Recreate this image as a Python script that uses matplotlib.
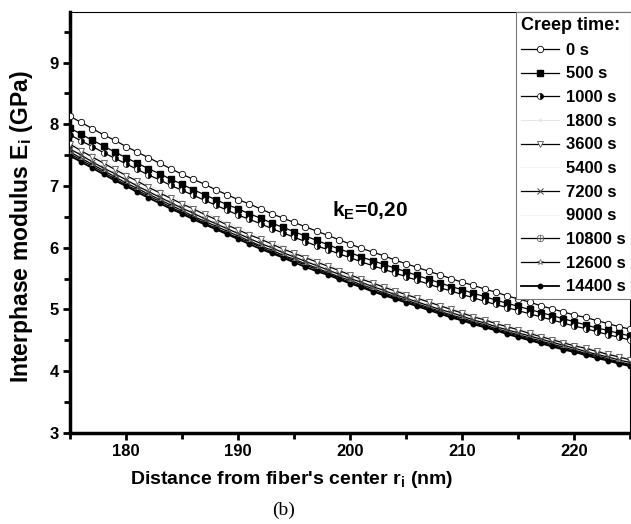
import matplotlib
matplotlib.use("Agg")
import matplotlib.pyplot as plt
from matplotlib.ticker import MultipleLocator

plt.rcParams['font.family'] = ['Liberation Sans', 'DejaVu Sans']
plt.rcParams['font.weight'] = 'bold'
plt.rcParams['mathtext.fontset'] = 'custom'
plt.rcParams['mathtext.bf'] = 'Liberation Sans:bold'
plt.rcParams['mathtext.rm'] = 'Liberation Sans:bold'
plt.rcParams['mathtext.default'] = 'bf'

# distance from fiber centre (nm), one point per nm
r = list(range(175, 226))

# interphase modulus (GPa) for each creep time
E_0 = [8.13, 8.03, 7.93, 7.83, 7.74, 7.64, 7.55, 7.46, 7.37, 7.28,
       7.19, 7.11, 7.03, 6.94, 6.86, 6.78, 6.71, 6.63, 6.55, 6.48,
       6.41, 6.34, 6.27, 6.20, 6.13, 6.06, 5.99, 5.93, 5.87, 5.80,
       5.74, 5.68, 5.62, 5.56, 5.50, 5.44, 5.39, 5.33, 5.28, 5.22,
       5.17, 5.12, 5.06, 5.01, 4.96, 4.91, 4.87, 4.82, 4.77, 4.72, 4.68]
E_500 = [7.94, 7.84, 7.74, 7.65, 7.55, 7.46, 7.37, 7.28, 7.20, 7.11,
         7.03, 6.94, 6.86, 6.78, 6.70, 6.63, 6.55, 6.48, 6.40, 6.33,
         6.26, 6.19, 6.12, 6.05, 5.98, 5.92, 5.85, 5.79, 5.73, 5.67,
         5.61, 5.55, 5.49, 5.43, 5.37, 5.32, 5.26, 5.21, 5.15, 5.10,
         5.05, 5.00, 4.95, 4.90, 4.85, 4.80, 4.75, 4.70, 4.66, 4.61, 4.57]
E_1000 = [7.83, 7.73, 7.64, 7.54, 7.45, 7.36, 7.27, 7.18, 7.10, 7.01,
          6.93, 6.85, 6.77, 6.69, 6.61, 6.53, 6.46, 6.39, 6.31, 6.24,
          6.17, 6.10, 6.03, 5.97, 5.90, 5.84, 5.77, 5.71, 5.65, 5.59,
          5.53, 5.47, 5.41, 5.35, 5.30, 5.24, 5.19, 5.13, 5.08, 5.03,
          4.98, 4.93, 4.88, 4.83, 4.78, 4.73, 4.69, 4.64, 4.59, 4.55, 4.50]
E_1800 = [7.72, 7.61, 7.51, 7.41, 7.31, 7.21, 7.12, 7.02, 6.93, 6.84,
          6.75, 6.66, 6.58, 6.49, 6.41, 6.33, 6.25, 6.17, 6.09, 6.02,
          5.94, 5.87, 5.80, 5.73, 5.66, 5.59, 5.52, 5.46, 5.39, 5.33,
          5.26, 5.20, 5.14, 5.08, 5.02, 4.97, 4.91, 4.85, 4.80, 4.74,
          4.69, 4.64, 4.59, 4.54, 4.49, 4.44, 4.39, 4.34, 4.29, 4.25, 4.20]
E_3600 = [7.68, 7.57, 7.47, 7.37, 7.27, 7.17, 7.08, 6.98, 6.89, 6.80,
          6.71, 6.63, 6.54, 6.46, 6.37, 6.29, 6.21, 6.14, 6.06, 5.98,
          5.91, 5.84, 5.77, 5.70, 5.63, 5.56, 5.49, 5.43, 5.36, 5.30,
          5.24, 5.18, 5.12, 5.06, 5.00, 4.94, 4.88, 4.83, 4.77, 4.72,
          4.67, 4.61, 4.56, 4.51, 4.46, 4.41, 4.37, 4.32, 4.27, 4.23, 4.18]
E_5400 = [7.63, 7.53, 7.42, 7.32, 7.22, 7.13, 7.03, 6.94, 6.85, 6.76,
          6.67, 6.58, 6.50, 6.42, 6.33, 6.25, 6.17, 6.10, 6.02, 5.95,
          5.87, 5.80, 5.73, 5.66, 5.59, 5.52, 5.46, 5.39, 5.33, 5.26,
          5.20, 5.14, 5.08, 5.02, 4.97, 4.91, 4.85, 4.80, 4.74, 4.69,
          4.64, 4.58, 4.53, 4.48, 4.43, 4.39, 4.34, 4.29, 4.24, 4.20, 4.15]
E_7200 = [7.60, 7.50, 7.39, 7.29, 7.20, 7.10, 7.00, 6.91, 6.82, 6.73,
          6.64, 6.56, 6.47, 6.39, 6.31, 6.23, 6.15, 6.07, 6.00, 5.92,
          5.85, 5.78, 5.71, 5.64, 5.57, 5.50, 5.44, 5.37, 5.31, 5.24,
          5.18, 5.12, 5.06, 5.00, 4.95, 4.89, 4.83, 4.78, 4.72, 4.67,
          4.62, 4.57, 4.52, 4.47, 4.42, 4.37, 4.32, 4.27, 4.23, 4.18, 4.14]
E_9000 = [7.57, 7.47, 7.36, 7.26, 7.17, 7.07, 6.98, 6.88, 6.79, 6.70,
          6.62, 6.53, 6.45, 6.36, 6.28, 6.20, 6.13, 6.05, 5.97, 5.90,
          5.83, 5.75, 5.68, 5.61, 5.55, 5.48, 5.41, 5.35, 5.29, 5.22,
          5.16, 5.10, 5.04, 4.98, 4.93, 4.87, 4.81, 4.76, 4.71, 4.65,
          4.60, 4.55, 4.50, 4.45, 4.40, 4.35, 4.30, 4.26, 4.21, 4.17, 4.12]
E_10800 = [7.55, 7.45, 7.35, 7.25, 7.15, 7.05, 6.96, 6.87, 6.78, 6.69,
           6.60, 6.51, 6.43, 6.35, 6.27, 6.19, 6.11, 6.03, 5.96, 5.88,
           5.81, 5.74, 5.67, 5.60, 5.53, 5.47, 5.40, 5.34, 5.27, 5.21,
           5.15, 5.09, 5.03, 4.97, 4.91, 4.86, 4.80, 4.75, 4.69, 4.64,
           4.59, 4.54, 4.49, 4.44, 4.39, 4.34, 4.29, 4.25, 4.20, 4.15, 4.11]
E_12600 = [7.52, 7.42, 7.32, 7.22, 7.12, 7.02, 6.93, 6.84, 6.75, 6.66,
           6.57, 6.49, 6.40, 6.32, 6.24, 6.16, 6.09, 6.01, 5.93, 5.86,
           5.79, 5.72, 5.65, 5.58, 5.51, 5.44, 5.38, 5.31, 5.25, 5.19,
           5.13, 5.07, 5.01, 4.95, 4.89, 4.84, 4.78, 4.73, 4.67, 4.62,
           4.57, 4.52, 4.47, 4.42, 4.37, 4.32, 4.28, 4.23, 4.18, 4.14, 4.09]
E_14400 = [7.49, 7.39, 7.29, 7.19, 7.09, 7.00, 6.90, 6.81, 6.72, 6.63,
           6.55, 6.46, 6.38, 6.30, 6.22, 6.14, 6.06, 5.98, 5.91, 5.84,
           5.76, 5.69, 5.62, 5.56, 5.49, 5.42, 5.36, 5.29, 5.23, 5.17,
           5.11, 5.05, 4.99, 4.93, 4.87, 4.82, 4.76, 4.71, 4.66, 4.60,
           4.55, 4.50, 4.45, 4.40, 4.35, 4.31, 4.26, 4.21, 4.17, 4.12, 4.08]

labels = ['0 s', '500 s', '1000 s', '1800 s', '3600 s', '5400 s', '7200 s',
          '9000 s', '10800 s', '12600 s', '14400 s']

fig = plt.figure(figsize=(6.31, 5.24), dpi=100)
ax = fig.add_axes([0.111, 0.174, 0.888, 0.803])

ax.plot(r, E_0, '-o', color='black', lw=0.9, ms=4.6, mfc='white', mec='black', mew=0.6, label=labels[0], zorder=3)
ax.plot(r, E_500, '-s', color='black', lw=0.9, ms=3.8, mfc='black', mec='black', label=labels[1], zorder=3)
ax.plot(r, E_1000, '-o', color='black', lw=0.9, ms=4.3, fillstyle='right', mfc='black', mfcalt='white',
        mec='black', mew=0.5, label=labels[2], zorder=3)
ax.plot(r, E_1800, '-', marker='.', color='#e6e6e6', lw=0.7, ms=3, label=labels[3], zorder=1)
ax.plot(r, E_3600, '-v', color='black', lw=0.9, ms=4.5, mfc='white', mec='#555555', mew=0.6, label=labels[4], zorder=3)
ax.plot(r, E_5400, '-', color='#f4f4f4', lw=0.7, label=labels[5], zorder=1)
ax.plot(r, E_7200, '-x', color='black', lw=0.9, ms=4, mec='#444444', mew=0.7, label=labels[6], zorder=3)
ax.plot(r, E_9000, '-', color='#f4f4f4', lw=0.7, label=labels[7], zorder=1)
ax.plot(r, E_10800, '-', marker=r'$\oplus$', color='black', lw=0.9, ms=5, mec='#666666', mew=0.2, label=labels[8], zorder=3)
ax.plot(r, E_12600, '-*', color='black', lw=0.9, ms=4.2, mfc='white', mec='#555555', mew=0.5, label=labels[9], zorder=3)
ax.plot(r, E_14400, '-o', color='black', lw=1.3, ms=3.2, mfc='black', mec='black', label=labels[10], zorder=3)

ax.set_xlim(175, 225)
ax.set_ylim(3, 9.82)
ax.xaxis.set_major_locator(MultipleLocator(10))
ax.xaxis.set_minor_locator(MultipleLocator(5))
ax.yaxis.set_major_locator(MultipleLocator(1))
ax.yaxis.set_minor_locator(MultipleLocator(0.5))
ax.set_xticks([180, 190, 200, 210, 220])
ax.tick_params(which='major', direction='out', length=5, width=2, labelsize=12, pad=3)
ax.tick_params(which='minor', direction='out', length=4, width=2)
for lab in ax.get_xticklabels() + ax.get_yticklabels():
    lab.set_fontweight('bold')

ax.spines['left'].set_linewidth(2.5)
ax.spines['bottom'].set_linewidth(2.5)
ax.spines['top'].set_linewidth(0.8)
ax.spines['right'].set_linewidth(0.8)

ax.set_xlabel(r"Distance from fiber's center r$_\mathbf{i}$ (nm)", fontsize=14, fontweight='bold')
ax.xaxis.set_label_coords(0.395, -0.085)
ax.set_ylabel(r"Interphase modulus E$_\mathbf{i}$ (GPa)", fontsize=16.5, fontweight='bold')
ax.yaxis.set_label_coords(-0.062, 0.49)

ax.text(201.8, 6.6, r"k$_\mathbf{E}$=0,20", fontsize=15, fontweight='bold', ha='center', va='center')

leg = ax.legend(loc='upper left', bbox_to_anchor=(0.795, 1.0), borderaxespad=0, title='Creep time:', fontsize=12,
                title_fontproperties={'weight': 'bold', 'size': 13}, alignment='left',
                numpoints=1, handlelength=2.3, handletextpad=0.45, labelspacing=0.52,
                borderpad=0.3, fancybox=False, edgecolor='#777777', framealpha=1)
leg.get_frame().set_linewidth(0.8)
for t in leg.get_texts():
    t.set_fontweight('bold')

fig.text(0.45, 0.018, '(b)', fontsize=14, family='Liberation Serif', fontweight='normal', ha='center')

fig.savefig('out.png', dpi=100)
